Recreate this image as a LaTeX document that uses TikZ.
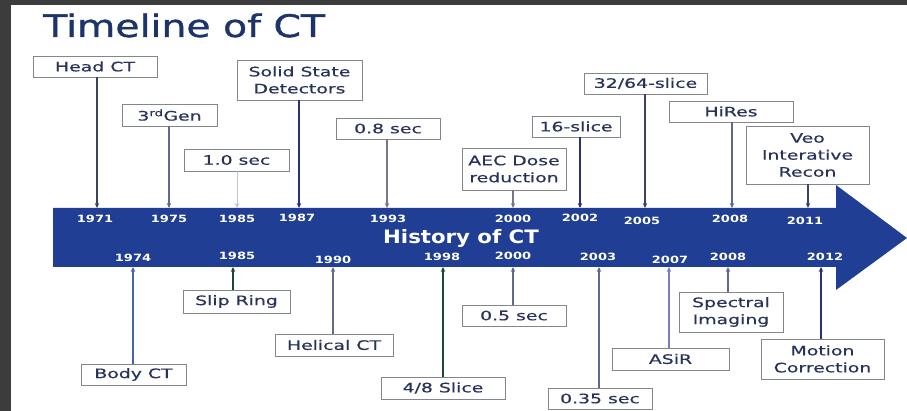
\documentclass[tikz,border=0pt]{standalone}
\usepackage{fontspec}
\usetikzlibrary{arrows.meta}
\newfontfamily\boxfont[FakeStretch=1.45,FakeBold=0.4]{DejaVu Sans}
\newfontfamily\yearfont[FakeStretch=1.3]{DejaVu Sans Bold}
\newfontfamily\titlefont[FakeStretch=1.27,FakeBold=1.2]{DejaVu Sans}
\newfontfamily\histfont[FakeStretch=1.15]{DejaVu Sans Bold}
\definecolor{bandblue}{RGB}{31,62,148}
\definecolor{ttl}{RGB}{28,52,105}
\definecolor{txt}{RGB}{40,50,90}
\definecolor{boxline}{RGB}{130,135,140}
\definecolor{framegray}{RGB}{60,60,60}
\definecolor{cdark}{RGB}{60,65,95}
\definecolor{cslate}{RGB}{95,105,140}
\definecolor{clight}{RGB}{195,195,200}
\definecolor{cgreen}{RGB}{30,70,50}
\definecolor{clav}{RGB}{120,125,190}
\definecolor{cblue}{RGB}{70,100,170}
\definecolor{cgray}{RGB}{120,120,130}
\definecolor{cnavy}{RGB}{40,50,110}
\begin{document}
\begin{tikzpicture}[x=1pt,y=-1pt,
  lbl/.style={draw=boxline, fill=white, line width=0.8pt, inner sep=0pt,
    font=\boxfont\fontsize{13}{17}\selectfont, text=txt, align=center},
  arr/.style={line width=1.4pt, -{Stealth[length=5pt,width=4.5pt]}},
  yr/.style={font=\yearfont\fontsize{10}{11}\selectfont, text=white, inner sep=0pt}]
\useasboundingbox (0,0) rectangle (907,411);
\fill[white] (0,0) rectangle (907,411);
\fill[framegray] (0,0) rectangle (11,411);
\fill[framegray] (0,0) rectangle (907,5);
% title
\node[anchor=base west, inner sep=0pt, text=ttl, font=\titlefont\fontsize{31}{34}\selectfont] (title) at (43,37) {Timeline of CT};
% band arrow
\fill[bandblue] (53,208) -- (836,208) -- (836,185) -- (907,238) -- (836,290) -- (836,267) -- (53,267) -- cycle;
\node[text=white, inner sep=0pt, font=\histfont\fontsize{18.5}{20}\selectfont] (hist) at (461,238) {History of CT};
% top coordinates
\coordinate (t1) at (97,208);
\coordinate (t2) at (169,208);
\coordinate (t3) at (237,208);
\coordinate (t4) at (299,208);
\coordinate (t5) at (387,208);
\coordinate (t6) at (513,208);
\coordinate (t7) at (580,208);
\coordinate (t8) at (645,208);
\coordinate (t9) at (732,208);
\coordinate (t10) at (808,208);
% bottom coordinates
\coordinate (b1) at (133,267);
\coordinate (b2) at (233,267);
\coordinate (b3) at (333,267);
\coordinate (b4) at (443,267);
\coordinate (b5) at (513,267);
\coordinate (b6) at (599,267);
\coordinate (b7) at (669,267);
\coordinate (b8) at (728,267);
\coordinate (b9) at (821,267);
% top boxes
\node[lbl, minimum width=124, minimum height=21] (headct) at (95,66.5) {Head CT};
\node[lbl, minimum width=95, minimum height=22] (gen3) at (169.5,115) {3\textsuperscript{rd}Gen};
\node[lbl, minimum width=105, minimum height=22] (sec10) at (236.5,160) {1.0 sec};
\node[lbl, minimum width=125, minimum height=40] (solid) at (299.5,80) {Solid State\\Detectors};
\node[lbl, minimum width=104, minimum height=21] (sec08) at (388,128.5) {0.8 sec};
\node[lbl, minimum width=104, minimum height=42] (aec) at (514,169) {AEC Dose\\reduction};
\node[lbl, minimum width=88, minimum height=21] (s16) at (576,126.5) {16-slice};
\node[lbl, minimum width=123, minimum height=21] (s3264) at (645.5,83.5) {32/64-slice};
\node[lbl, minimum width=124, minimum height=21] (hires) at (731,111.5) {HiRes};
\node[lbl, minimum width=123, minimum height=58] (veo) at (807.5,155) {Veo\\Interative\\Recon};
% bottom boxes
\node[lbl, minimum width=105, minimum height=21] (body) at (133.5,374.5) {Body CT};
\node[lbl, minimum width=107, minimum height=23] (slip) at (236.5,301.5) {Slip Ring};
\node[lbl, minimum width=118, minimum height=22] (helical) at (334,345) {Helical CT};
\node[lbl, minimum width=124, minimum height=22] (s48) at (443,388) {4/8 Slice};
\node[lbl, minimum width=104, minimum height=21] (sec05) at (514,315.5) {0.5 sec};
\node[lbl, minimum width=104, minimum height=21] (sec035) at (600,398.5) {0.35 sec};
\node[lbl, minimum width=117, minimum height=22] (asir) at (670.5,359) {ASiR};
\node[lbl, minimum width=104, minimum height=40] (spectral) at (731,312) {Spectral\\Imaging};
\node[lbl, minimum width=123, minimum height=40] (motion) at (822.5,359) {Motion\\Correction};
% top arrows
\draw[arr, draw=cdark] (headct.south -| t1) -- (t1);
\draw[arr, draw=cslate] (gen3.south -| t2) -- (t2);
\draw[arr, draw=clight, line width=1pt] (sec10.south -| t3) -- (t3);
\draw[arr, draw=cnavy] (solid.south -| t4) -- (t4);
\draw[arr, draw=cgray, line width=1.1pt] (sec08.south -| t5) -- (t5);
\draw[arr, draw=cgray, line width=1.1pt] (aec.south -| t6) -- (t6);
\draw[arr, draw=cnavy, line width=1.8pt] (s16.south -| t7) -- (t7);
\draw[arr, draw=cdark] (s3264.south -| t8) -- (t8);
\draw[arr, draw=cslate] (hires.south -| t9) -- (t9);
\draw[arr, draw=cdark] (veo.south -| t10) -- (t10);
% bottom arrows
\draw[arr, draw=cblue] (body.north -| b1) -- (b1);
\draw[arr, draw=cgreen, line width=1.8pt] (slip.north -| b2) -- (b2);
\draw[arr, draw=cslate, line width=1.8pt] (helical.north -| b3) -- (b3);
\draw[arr, draw=cgreen, line width=1.8pt] (s48.north -| b4) -- (b4);
\draw[arr, draw=cslate] (sec05.north -| b5) -- (b5);
\draw[arr, draw=cslate, line width=1.8pt] (sec035.north -| b6) -- (b6);
\draw[arr, draw=clav, line width=1.8pt] (asir.north -| b7) -- (b7);
\draw[arr, draw=cslate, line width=1.8pt] (spectral.north -| b8) -- (b8);
\draw[arr, draw=cnavy, line width=1.8pt] (motion.north -| b9) -- (b9);
% top years
\node[yr] (y1971) at (95,219) {1971};
\node[yr] (y1975) at (169,219) {1975};
\node[yr] (y1985a) at (237,219) {1985};
\node[yr] (y1987) at (297,218) {1987};
\node[yr] (y1993) at (388,219) {1993};
\node[yr] (y2000a) at (513,219) {2000};
\node[yr] (y2002) at (580,218) {2002};
\node[yr] (y2005) at (642,221) {2005};
\node[yr] (y2008a) at (730,219) {2008};
\node[yr] (y2011) at (805,221) {2011};
% bottom years
\node[yr] (y1974) at (133,258) {1974};
\node[yr] (y1985b) at (237,256) {1985};
\node[yr] (y1990) at (333,260) {1990};
\node[yr] (y1998) at (442,257) {1998};
\node[yr] (y2000b) at (513,256) {2000};
\node[yr] (y2003) at (598,257) {2003};
\node[yr] (y2007) at (670,260) {2007};
\node[yr] (y2008b) at (728,257) {2008};
\node[yr] (y2012) at (825,257) {2012};
\end{tikzpicture}
\end{document}
